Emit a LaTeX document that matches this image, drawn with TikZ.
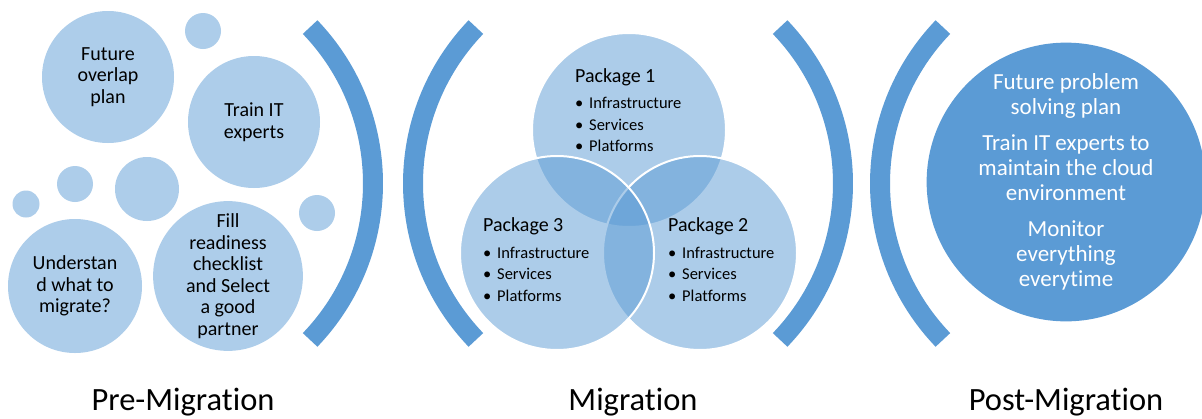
\documentclass[tikz,border=0pt]{standalone}
\usepackage{fontspec}
\setmainfont{Carlito}[Ligatures={NoCommon}]
\definecolor{acc}{HTML}{5B9BD5}
\definecolor{lite}{HTML}{ADCDEA}
\begin{document}
\begin{tikzpicture}[x=1pt,y=-1pt,
  bubble/.style={circle, fill=lite, inner sep=0pt, minimum size=#1, align=center, font=\fontsize{20}{21.5}\selectfont},
  venn/.style={circle, fill=acc, fill opacity=0.5, draw=white, draw opacity=1, line width=2pt, minimum size=194pt, inner sep=0pt},
  bracket/.style={draw=acc, line width=20pt},
  ptitle/.style={anchor=base west, inner sep=0pt, font=\fontsize{20}{22}\selectfont},
  pitem/.style={anchor=base west, inner sep=0pt, font=\fontsize{16.5}{20}\selectfont},
  phase/.style={anchor=base, inner sep=0pt, font=\fontsize{32.5}{36}\selectfont}
]
\useasboundingbox[fill=white] (0,0) rectangle (1202,418);

% Pre-migration bubbles
\node[bubble=132pt] (bFut) at (108,77) {Future\\overlap\\plan};
\node[bubble=36pt] (bTop) at (203,31) {};
\node[bubble=132pt] (bTrain) at (254,122) {Train IT\\experts};
\node[bubble=36pt] (bS1) at (75,184) {};
\node[bubble=27pt] (bS2) at (26,204) {};
\node[bubble=64pt] (bMed) at (147,189) {};
\node[bubble=36pt] (bS3) at (317,213) {};
\node[bubble=134pt] (bUnd) at (75,286) {Understan\\d what to\\migrate?};
\node[bubble=134pt] (bFill) at (228,276) {Fill\\readiness\\checklist\\and Select\\a good\\partner};

% Brackets
\draw[bracket] (147,183.5) ++(-43.8:226pt) arc[start angle=-43.8, end angle=43.8, radius=226pt];
\draw[bracket] (639,183.5) ++(136.2:226pt) arc[start angle=136.2, end angle=223.8, radius=226pt];
\draw[bracket] (617,183.5) ++(-43.8:226pt) arc[start angle=-43.8, end angle=43.8, radius=226pt];
\draw[bracket] (1106,183.5) ++(136.2:226pt) arc[start angle=136.2, end angle=223.8, radius=226pt];

% Venn
\node[venn] (c1) at (629,130) {};
\node[venn] (c2) at (700,253) {};
\node[venn] (c3) at (557,253) {};

\node[ptitle] (p1t) at (575,82) {Package 1};
\node[pitem] (p1a) at (575,108) {\makebox[14pt][l]{\textbullet}Infrastructure};
\node[pitem] (p1b) at (575,130) {\makebox[14pt][l]{\textbullet}Services};
\node[pitem] (p1c) at (575,151) {\makebox[14pt][l]{\textbullet}Platforms};

\node[ptitle] (p3t) at (483,231) {Package 3};
\node[pitem] (p3a) at (483,258) {\makebox[14pt][l]{\textbullet}Infrastructure};
\node[pitem] (p3b) at (483,279) {\makebox[14pt][l]{\textbullet}Services};
\node[pitem] (p3c) at (483,301) {\makebox[14pt][l]{\textbullet}Platforms};

\node[ptitle] (p2t) at (668,231) {Package 2};
\node[pitem] (p2a) at (668,258) {\makebox[14pt][l]{\textbullet}Infrastructure};
\node[pitem] (p2b) at (668,279) {\makebox[14pt][l]{\textbullet}Services};
\node[pitem] (p2c) at (668,301) {\makebox[14pt][l]{\textbullet}Platforms};

% Post-migration
\node[circle, fill=acc, minimum size=270pt, inner sep=0pt, text=white, align=center,
      font=\fontsize{23}{25}\selectfont] (post) at (1066,182)
  {Future problem\\solving plan\\[11pt]Train IT experts to\\maintain the cloud\\environment\\[11pt]Monitor\\everything\\everytime};

% Phase labels
\node[phase] (l1) at (183,410) {Pre-Migration};
\node[phase] (l2) at (633,410) {Migration};
\node[phase] (l3) at (1066,410) {Post-Migration};
\end{tikzpicture}
\end{document}
